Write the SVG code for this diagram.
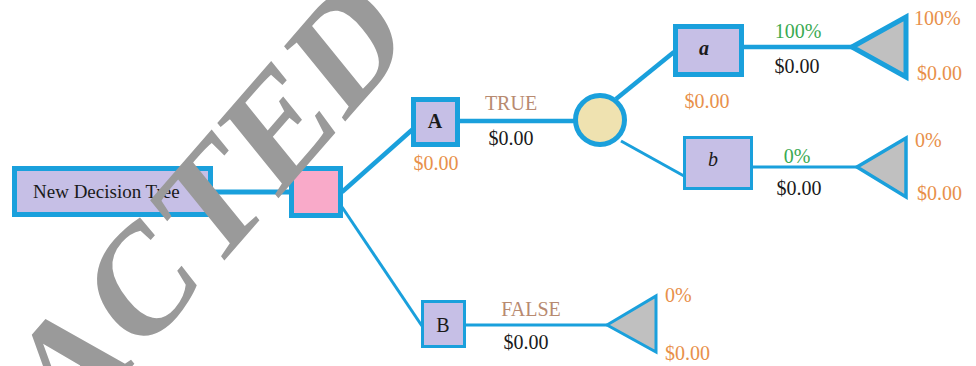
<svg xmlns="http://www.w3.org/2000/svg" width="976" height="366" viewBox="0 0 976 366">
<style>
.t{font-family:"Liberation Serif","Times New Roman",serif;font-size:20px}
.blk{fill:#1a1a1a}
.org{fill:#e8904a}
.grn{fill:#3aaa52}
.tan{fill:#b88a70}
.box{fill:#c6bfe6;stroke:#1aa0dc}
.tri{fill:#c0c0c0;stroke:#1aa0dc;stroke-linejoin:miter}
.ln{stroke:#1aa0dc;fill:none}
.wm{font-family:"Liberation Serif","Times New Roman",serif;font-weight:bold;font-size:160px;letter-spacing:4px;fill:#9a9a9a}
</style>
<rect width="976" height="366" fill="#ffffff"/>
<g id="connectors">
<line class="ln" x1="213" y1="192" x2="290" y2="192" stroke-width="5"/>
<line class="ln" x1="342" y1="192" x2="413" y2="129" stroke-width="4.5"/>
<line class="ln" x1="342" y1="207" x2="422" y2="326" stroke-width="3"/>
<line class="ln" x1="460" y1="121" x2="575" y2="121" stroke-width="4.5"/>
<line class="ln" x1="616" y1="99" x2="674" y2="52" stroke-width="4.5"/>
<line class="ln" x1="621" y1="141" x2="684" y2="176" stroke-width="3"/>
<line class="ln" x1="743" y1="47" x2="852" y2="47" stroke-width="4.5"/>
<line class="ln" x1="753" y1="167" x2="857" y2="167" stroke-width="3"/>
<line class="ln" x1="466" y1="325" x2="607" y2="325" stroke-width="3"/>
</g>
<g id="root">
<rect class="box" x="14.5" y="168.5" width="196" height="46" stroke-width="5"/>
<text class="t blk" x="33" y="198" style="font-size:19px">New Decision Tree</text>
</g>
<g id="decision">
<rect x="291.5" y="168.5" width="49" height="47" fill="#f9aac9" stroke="#1aa0dc" stroke-width="5"/>
</g>
<g id="nodeA">
<rect class="box" x="413.5" y="99.5" width="44" height="45" stroke-width="5"/>
<text class="t blk" x="435" y="128" text-anchor="middle" font-weight="bold">A</text>
<text class="t org" x="436" y="170" text-anchor="middle">$0.00</text>
<text class="t tan" x="511" y="110" text-anchor="middle">TRUE</text>
<text class="t blk" x="511" y="145" text-anchor="middle">$0.00</text>
</g>
<g id="chance">
<circle cx="600" cy="120" r="24.5" fill="#efe2b0" stroke="#1aa0dc" stroke-width="5"/>
</g>
<g id="nodeLa">
<rect class="box" x="675.5" y="26.5" width="66" height="48" stroke-width="5"/>
<text class="t blk" x="704" y="55" text-anchor="middle" font-weight="bold" font-style="italic">a</text>
<text class="t org" x="707" y="108" text-anchor="middle">$0.00</text>
<text class="t grn" x="798" y="38" text-anchor="middle">100%</text>
<text class="t blk" x="797" y="73" text-anchor="middle">$0.00</text>
</g>
<g id="termA">
<polygon class="tri" points="852,47 906,17 906,77" stroke-width="5"/>
<text class="t org" x="914" y="25">100%</text>
<text class="t org" x="917" y="80">$0.00</text>
</g>
<g id="nodeLb">
<rect class="box" x="684.5" y="137.5" width="67" height="51" stroke-width="3"/>
<text class="t blk" x="713" y="166" text-anchor="middle" font-style="italic">b</text>
<text class="t grn" x="797" y="163" text-anchor="middle">0%</text>
<text class="t blk" x="799" y="195" text-anchor="middle">$0.00</text>
</g>
<g id="termB">
<polygon class="tri" points="857,167 906,138 906,197" stroke-width="3.5"/>
<text class="t org" x="915" y="147">0%</text>
<text class="t org" x="917" y="200">$0.00</text>
</g>
<g id="nodeB">
<rect class="box" x="422.5" y="301.5" width="42" height="45" stroke-width="3"/>
<text class="t blk" x="443" y="332" text-anchor="middle">B</text>
<text class="t tan" x="531" y="316" text-anchor="middle">FALSE</text>
<text class="t blk" x="526" y="349" text-anchor="middle">$0.00</text>
</g>
<g id="termFalse">
<polygon class="tri" points="607,325 656,296 656,352" stroke-width="3"/>
<text class="t org" x="665" y="302">0%</text>
<text class="t org" x="665" y="360">$0.00</text>
</g>
<text class="wm" transform="scale(0.84,1) translate(77.9,443.2) rotate(-44)" x="-350" y="0">REDACTED</text>
</svg>
